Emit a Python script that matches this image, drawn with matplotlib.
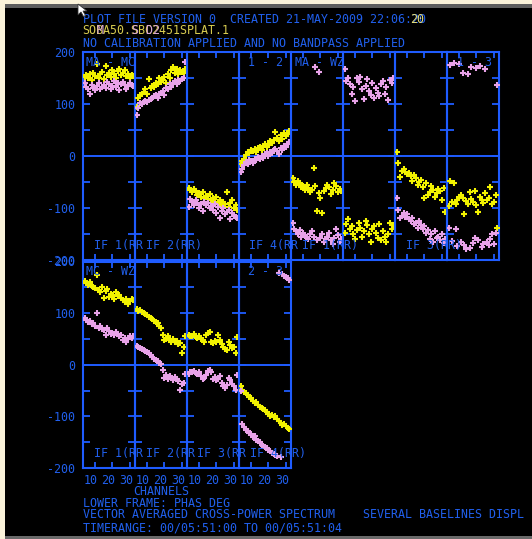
import matplotlib
matplotlib.use("Agg")
import matplotlib.pyplot as plt
from matplotlib.transforms import ScaledTranslation
from matplotlib.patches import Rectangle, Polygon

W, H, DPI = 532, 539, 100

# ---- data: phase (deg) per channel, 4 IFs per baseline -------------------
channels = list(range(4, 33))
if_names = ["IF 1(RR)", "IF 2(RR)", "IF 3(RR)", "IF 4(RR)"]
y_tick_values = [200, 100, 0, -100, -200]
x_tick_values = [10, 20, 30]

ma_mc_yellow = [
    [152, 155, 150, 158, 147, 160, 154, 176, 150, 158, 162, 148, 174, 156, 160,
     152, 165, 158, 150, 163, 168, 155, 160, 166, 153, 158, 150, 156, 154],
    [95, 112, 118, 120, 124, 128, 120, 148, 130, 135, 132, 140, 138, 150, 142,
     146, 152, 140, 158, 150, 165, 172, 160, 168, 158, 165, 162, 160, 168],
    [-62, -65, -70, -64, -68, -75, -72, -78, -70, -80, -76, -82, -74, -85, -80,
     -88, -78, -90, -84, -95, -88, -92, -70, -98, -90, -85, -100, -95, -104],
    [-15, -10, -5, 2, 8, 5, 12, 10, 14, 8, 15, 18, 12, 20, 24,
     18, 22, 28, 25, 30, 46, 35, 28, 40, 32, 45, 38, 42, 48],
]
ma_mc_pink = [
    [140, 132, 128, 119, 136, 130, 126, 134, 140, 128, 133, 137, 131, 142, 138,
     129, 135, 145, 133, 140, 126, 138, 142, 136, 128, 134, 141, 137, 135],
    [79, 92, 102, 100, 104, 106, 103, 108, 110, 112, 115, 118, 112, 120, 122,
     125, 118, 130, 128, 138, 132, 140, 144, 138, 146, 145, 148, 150, 180],
    [-98, -82, -88, -95, -84, -90, -100, -92, -106, -88, -95, -90, -100, -96, -104,
     -92, -110, -98, -119, -105, -100, -112, -108, -104, -122, -110, -115, -118, -120],
    [-30, -25, -18, -12, -15, -8, -10, -14, -5, -8, -2, -6, 0, -4, 3,
     5, 0, 8, 6, 12, 14, 10, 4, 16, 12, 20, 18, 24, 26],
]
ma_wz_yellow = [
    [-42, -50, -55, -48, -52, -60, -58, -65, -55, -62, -70, -66, -23, -58, -105,
     -72, -80, -110, -68, -62, -55, -60, -74, -66, -52, -58, -70, -64, -68],
    [-148, -130, -122, -140, -135, -150, -160, -142, -128, -138, -155, -145, -125, -132, -150,
     -165, -140, -135, -148, -158, -130, -162, -145, -155, -165, -150, -128, -140, -132],
    [8, -13, -40, -28, -25, -30, -35, -32, -38, -48, -36, -42, -55, -50, -46,
     -60, -80, -52, -75, -70, -58, -65, -78, -72, -64, -68, -85, -62, -108],
    [-96, -49, -88, -51, -92, -85, -78, -75, -80, -112, -86, -92, -70, -82, -88,
     -67, -95, -107, -78, -84, -90, -72, -85, -80, -60, -92, -88, -75, -138],
]
ma_wz_pink = [
    [-129, -140, -145, -150, -142, -155, -148, -152, -158, -160, -150, -145, -155, 171, -162,
     162, -158, -150, -165, -160, -155, -148, -162, -170, -158, -140, -152, -165, -160],
    [168, 145, 150, 138, 120, 132, 106, 150, 142, 152, 128, 110, 135, 148, 125,
     118, 140, 112, 130, 122, 115, 138, 145, 120, 132, 108, 146, 140, 150],
    [-80, -103, -120, -115, -110, -118, -112, -122, -125, -120, -130, -128, -138, -125, -132,
     -140, -135, -148, -142, -160, -150, -165, -145, -158, -155, -162, -150, -168, -160],
    [-138, 175, -164, 178, -140, -174, 176, -165, 160, -172, -178, 158, -176, 172, -168,
     -158, 170, -162, 174, -175, -170, 168, -165, -172, -160, -150, -170, -148, 136],
]
mc_wz_yellow = [
    [163, 158, 155, 160, 152, 150, 148, 174, 145, 140, 150, 130, 142, 146, 132,
     138, 135, 128, 140, 134, 136, 130, 125, 122, 128, 118, 124, 128, 126],
    [108, 105, 106, 102, 100, 98, 96, 92, 90, 88, 85, 82, 80, 75, 72,
     58, 48, 50, 56, 48, 45, 50, 44, 46, 40, 42, 22, 34, 56],
    [58, 55, 56, 60, 54, 52, 55, 50, 48, 45, 58, 62, 64, 45, 42,
     46, 44, 58, 48, 40, 35, 30, 28, 45, 38, 32, 35, 22, 54],
    [-42, -48, -52, -55, -58, -62, -65, -70, -74, -72, -78, -82, -84, -86, -88,
     -92, -96, -100, -98, -102, -100, -106, -108, -112, -116, -114, -118, -122, -125],
]
mc_wz_pink = [
    [90, 86, 82, 85, 78, 80, 75, 101, 72, 76, 70, 68, 58, 72, 65,
     60, 62, 58, 64, 60, 55, 58, 48, 52, 45, 50, 55, 52, 56],
    [36, 34, 32, 30, 28, 26, 24, 22, 18, 15, 12, 10, 8, 4, 2,
     -10, -25, -20, -28, -22, -26, -30, -24, -28, -32, -48, -38, -35, -18],
    [-18, -15, -14, -12, -16, -18, -14, -22, -28, -25, -20, -12, -10, -15, -28,
     -24, -30, -28, -22, -35, -42, -45, -40, -25, -30, -38, -42, -48, -20],
    [-50, -115, -120, -126, -128, -132, -135, -140, -138, -145, -148, -150, -155, -158, -160,
     -162, -165, -168, -170, -172, -175, -176, 178, -178, 175, 172, 170, 168, 165],
]

BLUE = "#1f5cff"
TEXT_BLUE = "#2160ee"
YELLOW = "#f2f200"
PINK = "#e8a2e8"
FONT = "DejaVu Sans Mono"
FS = 8.42
CHAR_W = 6.975

plt.rcParams["font.family"] = [FONT]

fig = plt.figure(figsize=(W / DPI, H / DPI), dpi=DPI, facecolor="black")


def rect_px(x0, y0, x1, y1):
    return [x0 / W, 1 - y1 / H, (x1 - x0) / W, (y1 - y0) / H]


def ftext(x, y, s, color=TEXT_BLUE, ha="left", va="baseline"):
    fig.text(x / W, 1 - y / H, s, color=color, ha=ha, va=va,
             fontsize=FS, family=FONT)


def make_panel(x0, y_top, y_bot, yellow, pink, ylabels, xlabels):
    ax = fig.add_axes(rect_px(x0, y_top, x0 + 52, y_bot))
    ax.set_facecolor("none")
    ax.set_xlim(3, 33)
    ax.set_ylim(-200, 200)
    for sp in ax.spines.values():
        sp.set_color(BLUE)
        sp.set_linewidth(1.5)
    ax.axhline(0, color=BLUE, lw=1.4, zorder=1)
    ax.set_xticks(x_tick_values)
    ax.set_yticks(y_tick_values)
    ax.set_yticks([150, 50, -50, -150], minor=True)
    ax.tick_params(which="both", direction="in", color=BLUE, width=1.3,
                   top=True, right=True, length=5, labelcolor=TEXT_BLUE,
                   labelsize=FS)
    ax.tick_params(axis="x", length=4, pad=4)
    ax.tick_params(axis="y", pad=5.6)
    if ylabels:
        ax.set_yticklabels([str(v) for v in y_tick_values])
    else:
        ax.set_yticklabels([])
    if xlabels:
        ax.set_xticklabels([str(v) for v in x_tick_values])
        shift = ScaledTranslation(-4 / DPI, 0, fig.dpi_scale_trans)
        for lab in ax.get_xticklabels():
            lab.set_transform(lab.get_transform() + shift)
    else:
        ax.set_xticklabels([])
    ax.plot(channels, yellow, linestyle="none", marker="+", color=YELLOW,
            markersize=4.6, markeredgewidth=1.5, zorder=3)
    ax.plot(channels, pink, linestyle="none", marker="+", color=PINK,
            markersize=4.6, markeredgewidth=1.5, zorder=4)
    return ax


# top row: baselines MA-MC and MA-WZ side by side
top_series = list(zip(ma_mc_yellow, ma_mc_pink)) + list(zip(ma_wz_yellow, ma_wz_pink))
for i, (ys, ps) in enumerate(top_series):
    make_panel(83 + 52 * i, 52, 260, ys, ps, i == 0, False)

# bottom row: baseline MC-WZ
for i, (ys, ps) in enumerate(zip(mc_wz_yellow, mc_wz_pink)):
    make_panel(83 + 52 * i, 261.5, 468, ys, ps, i == 0, True)

# panel captions
ftext(86, 65.7, "MA - MC")
ftext(248.5, 65.7, "1 - 2")
ftext(295, 65.7, "MA - WZ")
ftext(457, 65.7, "1 - 3")
ftext(86, 275, "MC - WZ")
ftext(248.5, 275, "2 - 3")

ftext(93.5, 249, if_names[0][:7])
ftext(145.5, 249, if_names[1])
ftext(249, 249, if_names[3][:7])
ftext(301.5, 249, if_names[0])
ftext(405.5, 249, if_names[2])
for i, name in enumerate(if_names):
    ftext(93.5 + 52 * i, 457.3, name if i == 3 else name[:7])

# header
ftext(82.7, 23.3, "PLOT FILE VERSION 0  CREATED 21-MAY-2009 22:06:20")
ftext(82.7 + 47 * CHAR_W, 23.3, "20", color="#e4dc78")
ftext(82.7, 34.3, "SOBA50.SBC2451SPLAT.1", color="#d8cc50")
ftext(82.7, 34.3, "  M    S D2", color="#d8a6d8")
ftext(82.7, 46.7, "NO CALIBRATION APPLIED AND NO BANDPASS APPLIED")

# footer
ftext(133, 495, "CHANNELS")
ftext(82.7, 506.7, "LOWER FRAME: PHAS DEG")
ftext(82.7, 518.3, "VECTOR AVERAGED CROSS-POWER SPECTRUM    SEVERAL BASELINES DISPL")
ftext(82.7, 531.7, "TIMERANGE: 00/05:51:00 TO 00/05:51:04")

# window border and pointer
fig.patches.append(Rectangle((0, 1 - 4.3 / H), 1, 4.3 / H, transform=fig.transFigure,
                             facecolor="#fbf3da", edgecolor="none", zorder=10))
fig.patches.append(Rectangle((0, 1 - 7.5 / H), 1, 3.2 / H, transform=fig.transFigure,
                             facecolor="#5e5e5e", edgecolor="none", zorder=10))
fig.patches.append(Rectangle((0, 0), 5 / W, 1, transform=fig.transFigure,
                             facecolor="#fbf3da", edgecolor="none", zorder=10))
fig.patches.append(Rectangle((5 / W, 0), 1, 3 / H, transform=fig.transFigure,
                             facecolor="#6a6a6a", edgecolor="none", zorder=10))
arrow_px = [(78, 4), (78, 15), (81, 12), (83.5, 16.5), (85.5, 15.5), (83, 11), (87, 11)]
fig.patches.append(Polygon([(x / W, 1 - y / H) for x, y in arrow_px], closed=True,
                           transform=fig.transFigure, facecolor="white",
                           edgecolor="#333333", linewidth=0.6, zorder=11))

fig.savefig("out.png", dpi=DPI, facecolor="black")
